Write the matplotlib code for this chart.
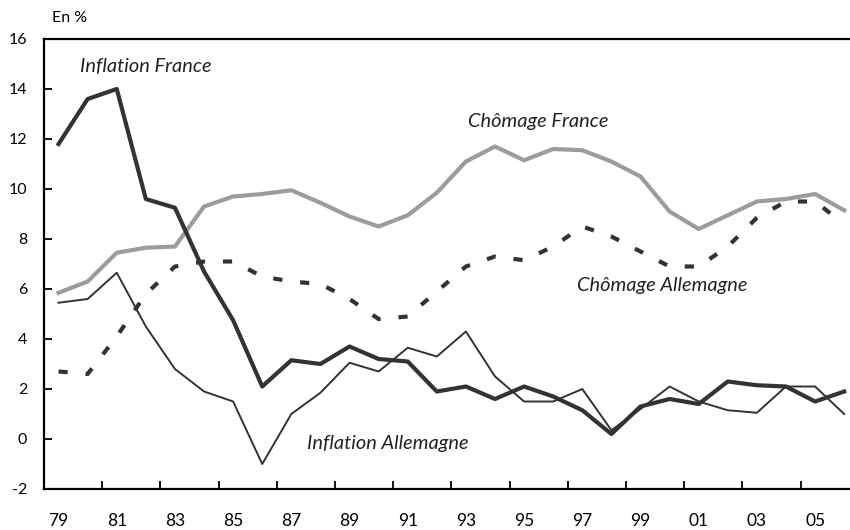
import matplotlib
matplotlib.use("Agg")
import matplotlib.pyplot as plt
import numpy as np

years = list(range(1979, 2007))
tick_labels = ["79", "81", "83", "85", "87", "89", "91", "93", "95", "97", "99", "01", "03", "05"]

inflation_france = [11.8, 13.6, 14.0, 9.6, 9.25, 6.7, 4.75, 2.1, 3.15, 3.0, 3.7, 3.2, 3.1, 1.9,
                    2.1, 1.6, 2.1, 1.7, 1.15, 0.2, 1.3, 1.6, 1.4, 2.3, 2.15, 2.1, 1.5, 1.9]
inflation_allemagne = [5.45, 5.6, 6.65, 4.5, 2.8, 1.9, 1.5, -1.0, 1.0, 1.85, 3.05, 2.7, 3.65, 3.3,
                       4.3, 2.5, 1.5, 1.5, 2.0, 0.35, 1.2, 2.1, 1.5, 1.15, 1.05, 2.1, 2.1, 1.0]
chomage_france = [5.85, 6.3, 7.45, 7.65, 7.7, 9.3, 9.7, 9.8, 9.95, 9.45, 8.9, 8.5, 8.95, 9.85,
                  11.1, 11.7, 11.15, 11.6, 11.55, 11.1, 10.5, 9.1, 8.4, 8.95, 9.5, 9.6, 9.8, 9.15]
chomage_allemagne = [2.7, 2.6, 4.1, 5.8, 6.9, 7.1, 7.1, 6.5, 6.3, 6.2, 5.6, 4.8, 4.9, 5.9,
                     6.9, 7.3, 7.15, 7.7, 8.5, 8.1, 7.5, 6.9, 6.9, 7.7, 8.85, 9.5, 9.5, 8.6]

dark = "#333333"
gray = "#9c9c9c"
font = ["Lato", "DejaVu Sans"]
plt.rcParams["font.family"] = font

fig = plt.figure(figsize=(8.5, 5.3), dpi=100)
ax = fig.add_axes([44 / 850, 41 / 530, 806 / 850, 450 / 530])

ax.plot(years, chomage_france, color=gray, lw=3.0, zorder=2)
ax.plot(years, chomage_allemagne, color=dark, lw=3.0, linestyle=(0, (2.2, 4.3)), zorder=3)
ax.plot(years, inflation_allemagne, color=dark, lw=1.4, zorder=3)
ax.plot(years, inflation_france, color=dark, lw=3.0, zorder=4)

ax.set_xlim(1978.5, 2006.2)
ax.set_ylim(-2, 16)

ax.set_yticks(np.arange(-2, 17, 2))
ax.set_yticklabels([str(v) for v in range(-2, 17, 2)])
ax.tick_params(axis="y", direction="in", length=6, width=1.3, pad=12, labelsize=11.5)

ax.set_xticks([1980.5 + 2 * i for i in range(13)])
ax.set_xticklabels([])
ax.set_xticks([1979 + 2 * i for i in range(len(tick_labels))], minor=True)
ax.set_xticklabels(tick_labels, minor=True)
ax.tick_params(axis="x", which="major", direction="in", length=6, width=1.3)
ax.tick_params(axis="x", which="minor", length=0, pad=17, labelsize=12.5)

for s in ["left", "bottom", "top"]:
    ax.spines[s].set_linewidth(1.6)
    ax.spines[s].set_color("black")
ax.spines["right"].set_visible(False)

tkw = dict(fontsize=14.4, style="italic", ha="left", va="center", color="#222222")
ax.text(1979.74, 14.88, "Inflation France", **tkw)
ax.text(1993.07, 12.68, "Chômage France", **tkw)
ax.text(1996.82, 6.12, "Chômage Allemagne", **tkw)
ax.text(1987.54, -0.16, "Inflation Allemagne", **tkw)

fig.text(52 / 850, 1 - 18 / 530, "En %", fontsize=11.5, ha="left", va="center")

fig.savefig("out.png", dpi=100)
